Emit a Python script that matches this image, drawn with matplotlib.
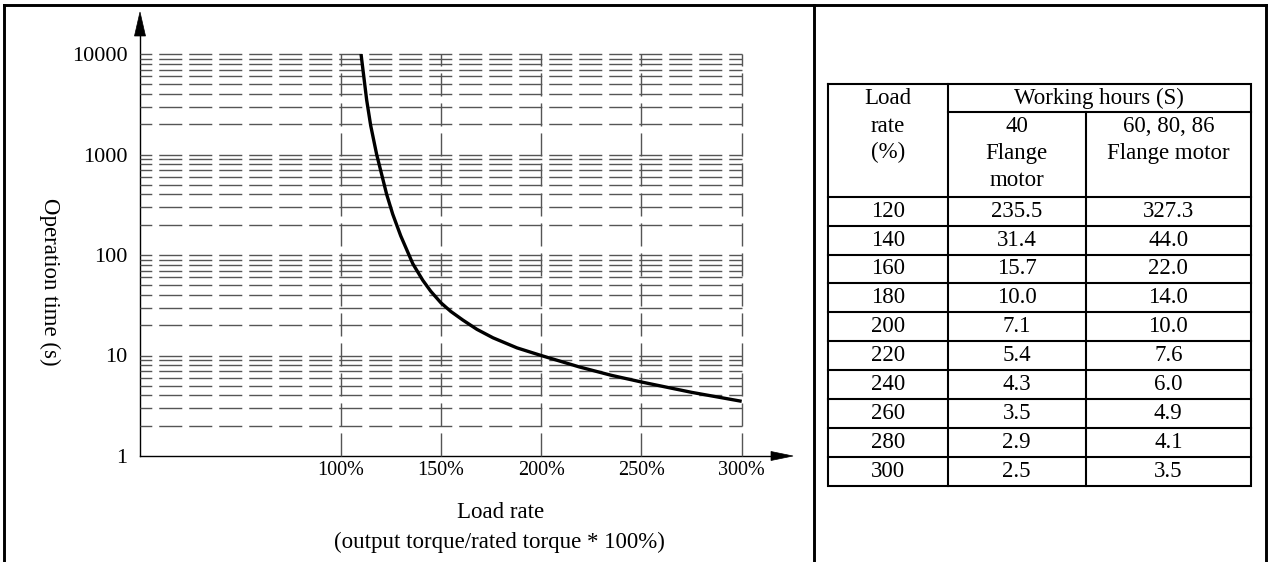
import numpy as np
import matplotlib
matplotlib.use("Agg")
import matplotlib.pyplot as plt
from matplotlib.patches import Polygon

plt.rcParams['font.family'] = ['Liberation Serif', 'DejaVu Serif']
plt.rcParams['lines.scale_dashes'] = False

# ---------------- data ----------------
# curve: load rate (%) vs operation time (s)
curve_load = [110.2, 113, 115, 118, 123, 126, 130, 136, 141, 145, 150, 155,
              161, 168, 176, 188, 200, 219, 235, 250, 275, 300]
curve_time = [10000, 3500, 1950, 1000, 400, 255, 155, 82, 56, 43.5, 33.5, 27.4,
              22.5, 18.2, 15, 11.9, 10, 7.7, 6.35, 5.45, 4.3, 3.5]

x_ticks = [100, 150, 200, 250, 300]
x_ticklabels = ["100%", "150%", "200%", "250%", "300%"]
y_ticks = [1, 10, 100, 1000, 10000]
y_ticklabels = ["1", "10", "100", "1000", "10000"]

# table
table_load = [120, 140, 160, 180, 200, 220, 240, 260, 280, 300]
hours_40 = [235.5, 31.4, 15.7, 10.0, 7.1, 5.4, 4.3, 3.5, 2.9, 2.5]
hours_60 = [327.3, 44.0, 22.0, 14.0, 10.0, 7.6, 6.0, 4.9, 4.1, 3.5]

# ---------------- figure ----------------
W, H = 1270, 562
fig = plt.figure(figsize=(W / 100, H / 100), dpi=100)

ov = fig.add_axes([0, 0, 1, 1])
ov.set_xlim(0, W)
ov.set_ylim(H, 0)
ov.axis('off')

# chart area (pixels)
L, R, T, B = 140, 741.7, 54, 456
ax = fig.add_axes([L / W, (H - B) / H, (R - L) / W, (B - T) / H])
ax.set_facecolor('none')
ax.set_yscale('log')
ax.set_xlim(0, 300)
ax.set_ylim(1, 10000)
for s in ax.spines.values():
    s.set_visible(False)

ax.set_xticks(x_ticks)
ax.set_xticklabels(x_ticklabels, fontsize=14.5)
ax.set_yticks(y_ticks)
ax.set_yticklabels(y_ticklabels, fontsize=16)
ax.yaxis.set_minor_locator(matplotlib.ticker.NullLocator())
ax.tick_params(which='both', length=0)
ax.tick_params(axis='x', pad=3.6)
ax.tick_params(axis='y', pad=9)

grid_color = '#555555'
h_levels = [m * 10 ** e for e in range(0, 4) for m in range(2, 11)]
ax.hlines(h_levels, 0, 300, colors=grid_color, linewidth=1.0,
          linestyles=[(8.1, (16.6, 5.0))], clip_on=False, zorder=1)
ax.vlines(x_ticks, 1, 10000, colors=grid_color, linewidth=1.0,
          linestyles=[(0, (16.6, 5.0))], clip_on=False, zorder=1)

ax.plot(curve_load, curve_time, color='black', lw=2.4, zorder=3,
        solid_joinstyle='round', solid_capstyle='butt')

# axes with arrows
ov.plot([L, L], [B, 30], color='black', lw=1.0)
ov.add_patch(Polygon([(L, 12), (L - 5.5, 36), (L + 5.5, 36)], closed=True,
                     facecolor='black', edgecolor='black', lw=0.5))
ov.plot([L, 775], [B, B], color='black', lw=1.0)
ov.add_patch(Polygon([(793, B), (771, B - 4.5), (771, B + 4.5)], closed=True,
                     facecolor='black', edgecolor='black', lw=0.5))

fs = 16.5
ov.text(50, 282, "Operation time (s)", rotation=270, ha='center', va='center', fontsize=fs)
ov.text(501, 512, "Load rate", ha='center', va='center', fontsize=fs)
ov.text(499, 542, "(output torque/rated torque * 100%)", ha='center', va='center', fontsize=fs)

# frame
flw = 2.1
for xs, ys in [([4, 1266], [5, 5]), ([4, 4], [5, H + 5]), ([814, 814], [5, H + 5]),
               ([1266, 1266], [5, H + 5])]:
    ov.plot(xs, ys, color='black', lw=flw, solid_capstyle='projecting')

# table
tx = [828, 947.7, 1085.7, 1251]
t_top, t_sub, t_head = 84, 112.3, 196.7
row_h = 28.9
t_bot = t_head + row_h * len(table_load)
tlw = 1.5
ov.plot([tx[0], tx[3], tx[3], tx[0], tx[0]], [t_top, t_top, t_bot, t_bot, t_top],
        color='black', lw=tlw, solid_joinstyle='miter')
ov.plot([tx[1], tx[1]], [t_top, t_bot], color='black', lw=tlw)
ov.plot([tx[2], tx[2]], [t_sub, t_bot], color='black', lw=tlw)
ov.plot([tx[1], tx[3]], [t_sub, t_sub], color='black', lw=tlw)
for i in range(len(table_load)):
    y = t_head + i * row_h
    ov.plot([tx[0], tx[3]], [y, y], color='black', lw=tlw)

c1 = (tx[0] + tx[1]) / 2
c2 = (tx[1] + tx[2]) / 2
c3 = (tx[2] + tx[3]) / 2
c23 = (tx[1] + tx[3]) / 2
for txt, x, y in [("Load", c1, 99), ("rate", c1, 127), ("(%)", c1, 152),
                  ("Working hours (S)", c23, 98.5),
                  ("40", c2, 127), ("Flange", c2, 153), ("motor", c2, 181),
                  ("60, 80, 86", c3, 127), ("Flange motor", c3, 153)]:
    ov.text(x, y, txt, ha='center', va='center', fontsize=fs)

for i, (ld, a, b) in enumerate(zip(table_load, hours_40, hours_60)):
    y = t_head + (i + 0.5) * row_h
    ov.text(c1, y, f"{ld}", ha='center', va='center', fontsize=fs)
    ov.text(c2, y, f"{a:.1f}", ha='center', va='center', fontsize=fs)
    ov.text(c3, y, f"{b:.1f}", ha='center', va='center', fontsize=fs)

fig.savefig("out.png", dpi=100)
